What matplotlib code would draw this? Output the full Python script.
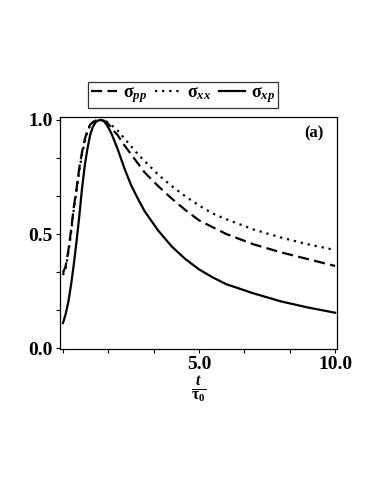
import matplotlib
matplotlib.use("Agg")
import matplotlib.pyplot as plt

plt.rcParams['font.family'] = ['Liberation Serif', 'DejaVu Serif']
plt.rcParams['font.weight'] = 'bold'
plt.rcParams['mathtext.fontset'] = 'custom'
plt.rcParams['mathtext.rm'] = 'Liberation Serif:bold'
plt.rcParams['mathtext.it'] = 'Liberation Serif:italic:bold'
plt.rcParams['mathtext.bf'] = 'Liberation Serif:bold'

t = [0.0, 0.1, 0.2, 0.3, 0.4, 0.5, 0.6, 0.7, 0.8, 0.9, 1.0, 1.1, 1.2, 1.3, 1.4,
     1.5, 1.6, 1.7, 1.8, 1.9, 2.0, 2.25, 2.5, 2.75, 3.0, 3.5, 4.0, 4.5, 5.0,
     5.5, 6.0, 7.0, 8.0, 9.0, 10.0]
sigma_pp = [0.33, 0.36, 0.43, 0.52, 0.62, 0.70, 0.79, 0.86, 0.915, 0.955, 0.98,
            0.99, 0.997, 1.0, 1.0, 0.997, 0.99, 0.978, 0.963, 0.947, 0.935,
            0.89, 0.85, 0.81, 0.77, 0.71, 0.655, 0.605, 0.56, 0.53, 0.50,
            0.455, 0.42, 0.39, 0.36]
sigma_xx = [0.32, 0.35, 0.42, 0.51, 0.61, 0.69, 0.78, 0.85, 0.905, 0.95, 0.975,
            0.99, 0.997, 1.0, 1.0, 0.998, 0.993, 0.985, 0.975, 0.965, 0.955,
            0.92, 0.885, 0.85, 0.82, 0.76, 0.71, 0.665, 0.625, 0.59, 0.565,
            0.52, 0.485, 0.455, 0.43]
sigma_xp = [0.11, 0.15, 0.205, 0.28, 0.37, 0.47, 0.58, 0.70, 0.80, 0.875, 0.935,
            0.97, 0.99, 0.998, 1.0, 0.995, 0.98, 0.96, 0.935, 0.905, 0.875,
            0.79, 0.715, 0.655, 0.60, 0.515, 0.445, 0.39, 0.345, 0.31, 0.28,
            0.24, 0.205, 0.178, 0.155]

labels = [r'σ$_{pp}$', r'σ$_{xx}$', r'σ$_{xp}$']
xticks_major = [5.0, 10.0]
yticks_major = [0.0, 0.5, 1.0]

fig = plt.figure(figsize=(3.82, 4.94), dpi=100)
ax = fig.add_axes([60/382, 1-349/494, 277/382, 232/494])

l1, = ax.plot(t, sigma_pp, color='black', lw=1.6, dashes=(5, 2.4))
l2, = ax.plot(t, sigma_xx, color='black', lw=1.6, linestyle=(0, (1, 2.2)))
l3, = ax.plot(t, sigma_xp, color='black', lw=1.6)

ax.set_xlim(-0.11, 10.07)
ax.set_ylim(-0.004, 1.013)

ax.set_xticks([0, 5/3, 10/3, 20/3, 25/3], minor=True)
ax.set_xticks(xticks_major)
ax.set_xticklabels(['%.1f' % v for v in xticks_major])
ax.set_yticks([1/6, 2/6, 4/6, 5/6], minor=True)
ax.set_yticks(yticks_major)
ax.set_yticklabels(['%.1f' % v for v in yticks_major])
ax.tick_params(which='both', direction='out', length=3, width=0.8, labelsize=14, pad=2)
for lab in ax.get_xticklabels() + ax.get_yticklabels():
    lab.set_fontweight('bold')
for s in ax.spines.values():
    s.set_linewidth(0.9)

ax.text(0.915, 0.93, '(a)', transform=ax.transAxes, ha='center', va='center',
        fontsize=12, fontweight='bold')

ax.set_xlabel(r'$\frac{t}{\mathrm{\tau}_{0}}$', fontsize=16, labelpad=1)

leg = fig.legend([l1, l2, l3], labels, loc='center', bbox_to_anchor=(183/382, 1-95/494),
                 ncol=3, frameon=True, fancybox=False, edgecolor='black',
                 handlelength=1.45, handletextpad=0.3, columnspacing=0.45,
                 borderpad=0.15, borderaxespad=0,
                 prop={'weight': 'bold', 'size': 13})
leg.get_frame().set_linewidth(0.9)

fig.savefig('out.png', dpi=100)
